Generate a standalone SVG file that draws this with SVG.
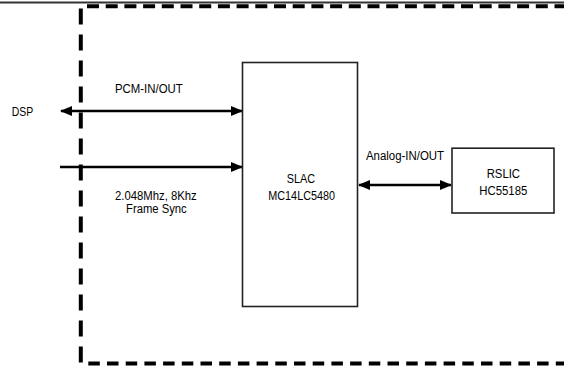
<svg xmlns="http://www.w3.org/2000/svg" width="564" height="369" viewBox="0 0 564 369">
<style>
  .lbl { font-family: "Liberation Sans", Arial, sans-serif; font-size: 12px; fill: #000; }
  .box { fill: #fff; stroke: #222; stroke-width: 1.6; }
  .wire { stroke: #000; stroke-width: 2.5; fill: none; }
</style>
<defs>
  <marker id="ah" markerUnits="userSpaceOnUse" markerWidth="12" markerHeight="10" refX="11" refY="5" orient="auto-start-reverse" viewBox="0 0 12 10">
    <path d="M0,0 L12,5 L0,10 Z" fill="#000"/>
  </marker>
</defs>
<rect width="564" height="369" fill="#fff"/>
<g id="frame">
  <line x1="0" y1="2.6" x2="564" y2="2.6" stroke="#333" stroke-width="2"/>
  <line x1="87" y1="6.3" x2="564" y2="6.3" stroke="#000" stroke-width="4" stroke-dasharray="12 6.7"/>
  <line x1="80.8" y1="8.5" x2="80.8" y2="364" stroke="#000" stroke-width="4" stroke-dasharray="16 10"/>
  <line x1="88.3" y1="363.5" x2="564" y2="363.5" stroke="#000" stroke-width="4" stroke-dasharray="11.5 7.2"/>
</g>
<g id="connectors">
  <line class="wire" x1="61" y1="111" x2="242" y2="111" marker-start="url(#ah)" marker-end="url(#ah)"/>
  <line class="wire" x1="60" y1="167" x2="242" y2="167" marker-end="url(#ah)"/>
  <line class="wire" x1="359" y1="185" x2="451" y2="185" marker-start="url(#ah)" marker-end="url(#ah)"/>
</g>
<g id="dsp">
  <text class="lbl" x="11.7" y="116" textLength="21.5" lengthAdjust="spacingAndGlyphs">DSP</text>
</g>
<g id="labels">
  <text class="lbl" x="115" y="93.3" textLength="67.7" lengthAdjust="spacingAndGlyphs">PCM-IN/OUT</text>
  <text class="lbl" x="115" y="200" textLength="81.7" lengthAdjust="spacingAndGlyphs">2.048Mhz, 8Khz</text>
  <text class="lbl" x="126" y="212.5" textLength="60.7" lengthAdjust="spacingAndGlyphs">Frame Sync</text>
  <text class="lbl" x="366" y="160" textLength="78" lengthAdjust="spacingAndGlyphs">Analog-IN/OUT</text>
</g>
<g id="slac">
  <rect class="box" x="242.5" y="62.5" width="115" height="244"/>
  <text class="lbl" x="286.7" y="183.3" textLength="28.3" lengthAdjust="spacingAndGlyphs">SLAC</text>
  <text class="lbl" x="268.3" y="200" textLength="66.7" lengthAdjust="spacingAndGlyphs">MC14LC5480</text>
</g>
<g id="rslic">
  <rect class="box" x="452" y="148.2" width="102" height="64.8"/>
  <text class="lbl" x="486.7" y="178.3" textLength="33.3" lengthAdjust="spacingAndGlyphs">RSLIC</text>
  <text class="lbl" x="479.3" y="195" textLength="48" lengthAdjust="spacingAndGlyphs">HC55185</text>
</g>
</svg>
